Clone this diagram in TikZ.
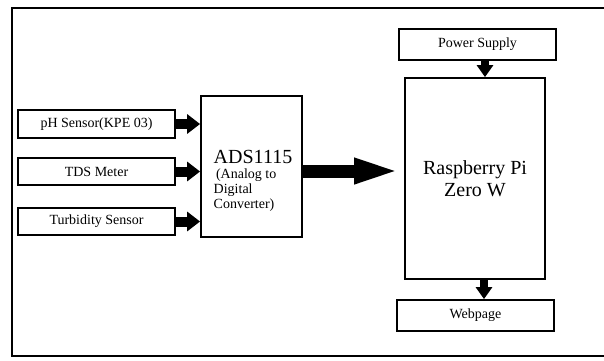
\documentclass[tikz,border=0pt]{standalone}
\usepackage{fontspec}
\setmainfont{Liberation Serif}
\usetikzlibrary{arrows.meta}
\tikzset{
  block/.style = {
    draw, line width=1.8pt, inner sep=0pt,
    font=\fontsize{14}{15}\selectfont
  },
  bigtext/.style = {font=\fontsize{20}{22}\selectfont},
  smallarrow/.style = {line width=10pt, -{Triangle[length=13pt,width=19pt]}},
  downarrow/.style = {line width=8pt, -{Triangle[length=12pt,width=16pt]}},
  busarrow/.style = {line width=13pt, -{Triangle[length=50pt,width=22pt]}}
}

\begin{document}
\begin{tikzpicture}[x=1pt,y=-1pt]
    \useasboundingbox (0,0) rectangle (604,360);
    % frame
    \draw[line width=1.8pt] (604,8) -- (12,8) -- (12,356) -- (604,356);
    % sensors
    \node[block, minimum width=157pt, minimum height=28pt] (ph) at (96.5,124) {pH Sensor(KPE 03)};
    \node[block, minimum width=157pt, minimum height=27pt] (tds) at (96.5,171.5) {TDS Meter};
    \node[block, minimum width=157pt, minimum height=27pt] (turb) at (96.5,221.5) {Turbidity Sensor};
    % converter and board
    \node[block, minimum width=101pt, minimum height=141pt] (ads) at (251.5,166.5) {};
    \node[align=left, font=\fontsize{14}{15}\selectfont] (adstext) at (253,181)
      {{\fontsize{20}{18}\selectfont ADS1115}\\ \,(Analog to\\Digital\\Converter)};
    \node[block, bigtext, align=center, minimum width=140pt, minimum height=201pt] (rpi) at (475,178.5)
      {Raspberry Pi\\Zero W};
    \node[block, minimum width=157pt, minimum height=31pt] (power) at (477.5,44.5) {Power Supply};
    \node[block, minimum width=157pt, minimum height=31pt] (web) at (475.5,315.5) {Webpage};
    % connections
    \foreach \s in {ph,tds,turb}
      \draw[smallarrow] (\s.east) -- (\s.east -| ads.west);
    \draw[busarrow] ([yshift=-4.5pt]ads.east) -- ([yshift=-4.5pt]ads.east -| rpi.west);
    \draw[downarrow] ([xshift=7.5pt]power.south) -- ([xshift=7.5pt]power.south |- rpi.north);
    \draw[downarrow] ([xshift=9pt]rpi.south) -- ([xshift=9pt]rpi.south |- web.north);
\end{tikzpicture}
\end{document}
